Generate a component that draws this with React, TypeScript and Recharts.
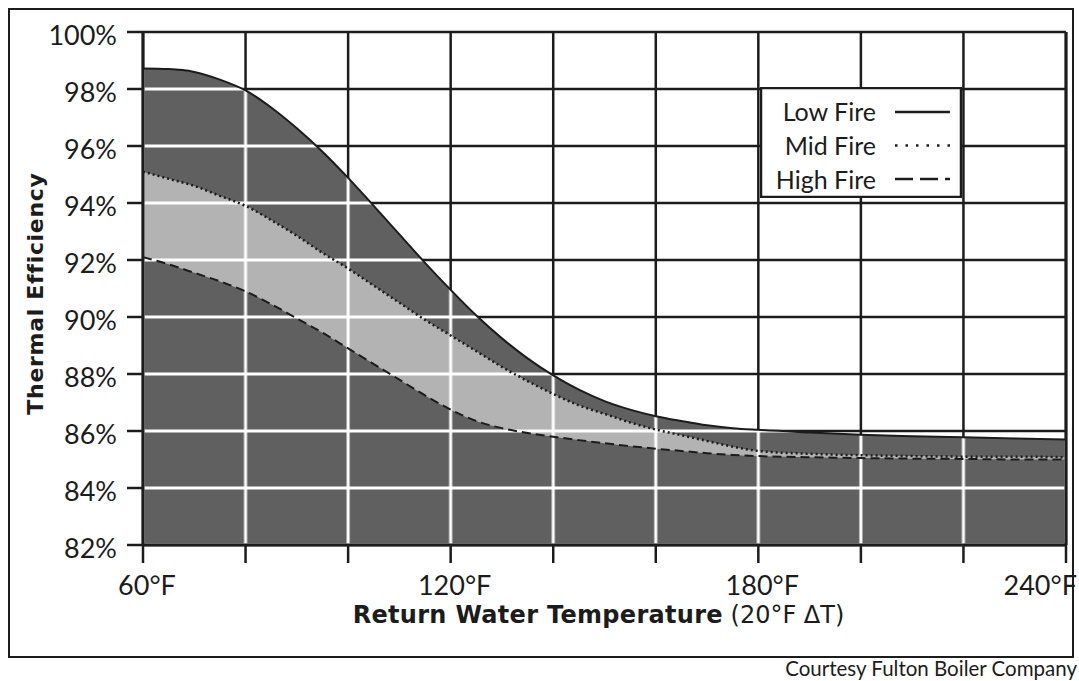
import React from 'react';
import { AreaChart, Area, XAxis, YAxis, CartesianGrid, Legend, ReferenceLine } from 'recharts';

// return water temperature (°F) and thermal efficiency (%)
const TEMPS = [60, 65, 70, 75, 80, 85, 90, 95, 100, 105, 110, 115, 120, 125, 130, 135, 140, 145, 150, 155, 160, 165, 170, 175, 180, 190, 200, 210, 220, 230, 240];
const LOW_FIRE = [98.72, 98.7, 98.6, 98.33, 97.95, 97.35, 96.62, 95.8, 94.88, 93.9, 92.9, 91.9, 90.95, 90.05, 89.25, 88.55, 87.95, 87.45, 87.05, 86.75, 86.52, 86.35, 86.2, 86.1, 86.04, 85.95, 85.87, 85.82, 85.78, 85.74, 85.7];
const MID_FIRE = [95.1, 94.85, 94.6, 94.25, 93.9, 93.4, 92.85, 92.25, 91.7, 91.1, 90.5, 89.9, 89.35, 88.8, 88.25, 87.75, 87.3, 86.9, 86.6, 86.3, 86.05, 85.85, 85.65, 85.45, 85.3, 85.2, 85.15, 85.12, 85.1, 85.1, 85.08];
const HIGH_FIRE = [92.1, 91.85, 91.55, 91.25, 90.9, 90.45, 89.95, 89.45, 88.9, 88.35, 87.8, 87.25, 86.75, 86.35, 86.1, 85.93, 85.8, 85.68, 85.57, 85.47, 85.38, 85.3, 85.22, 85.16, 85.12, 85.08, 85.05, 85.03, 85.02, 85.0, 85.0];

const SERIES_NAMES = ['Low Fire', 'Mid Fire', 'High Fire'];
const X_TICKS = [60, 80, 100, 120, 140, 160, 180, 200, 220, 240];
const X_LABELED = [60, 120, 180, 240];
const Y_TICKS = [82, 84, 86, 88, 90, 92, 94, 96, 98, 100];

const data = TEMPS.map((t, i) => ({
  temp: t,
  low: LOW_FIRE[i],
  mid: MID_FIRE[i],
  high: HIGH_FIRE[i],
}));

const FRAME_W = 1066;
const CHART_W = 1071;
const CHART_H = 650;
const MARGIN = { top: 24, right: 13, bottom: 23, left: 10 };
const Y_AXIS_W = 125;
const X_AXIS_H = 90;
const PLOT_LEFT = MARGIN.left + Y_AXIS_W;
const PLOT_TOP = MARGIN.top;
const PLOT_W = CHART_W - PLOT_LEFT - MARGIN.right;
const PLOT_H = CHART_H - MARGIN.top - MARGIN.bottom - X_AXIS_H;
const CELL_W = PLOT_W / (X_TICKS.length - 1);
const CELL_H = PLOT_H / (Y_TICKS.length - 1);

const DARK = '#606060';
const LIGHT = '#b3b3b3';
const INK = '#1c1c1c';
const TICK_FONT = 'Lato, "Open Sans", sans-serif';
const TITLE_FONT = '"DejaVu Sans", sans-serif';

// legend swatch styles per series
const SWATCH: Record<string, string | undefined> = {
  'Low Fire': undefined,
  'Mid Fire': '2.5 8',
  'High Fire': '18 7',
};

// fill with white grid lines so the grid shows white over the shaded bands
function GridFill({ id, color }: { id: string; color: string }) {
  const h = 1.5;
  return (
    <pattern id={id} patternUnits="userSpaceOnUse" x={PLOT_LEFT} y={PLOT_TOP} width={CELL_W} height={CELL_H}>
      <rect width={CELL_W} height={CELL_H} fill={color} />
      <rect width={h} height={CELL_H} fill="#fff" />
      <rect x={CELL_W - h} width={h} height={CELL_H} fill="#fff" />
      <rect width={CELL_W} height={h} fill="#fff" />
      <rect y={CELL_H - h} width={CELL_W} height={h} fill="#fff" />
    </pattern>
  );
}

const XTick = ({ x, y, payload }: any) => {
  if (!X_LABELED.includes(payload.value)) return <g />;
  const last = payload.value === X_TICKS[X_TICKS.length - 1];
  return (
    <text
      x={last ? x + 11 : x + 4}
      y={y}
      dy={32}
      textAnchor={last ? 'end' : 'middle'}
      fontFamily={TICK_FONT}
      fontSize={27}
      fill={INK}
    >
      {`${payload.value}°F`}
    </text>
  );
};

const YTick = ({ x, y, payload }: any) => (
  <text x={x} y={y} dy={13} textAnchor="end" fontFamily={TICK_FONT} fontSize={27} fill={INK}>
    {`${payload.value}%`}
  </text>
);

const XTitle = (props: any) => {
  const vb = props.viewBox ?? { x: PLOT_LEFT, y: PLOT_TOP + PLOT_H, width: PLOT_W, height: X_AXIS_H };
  return (
    <text x={vb.x + vb.width / 2 - 6} y={vb.y + 78} textAnchor="middle" fontFamily={TITLE_FONT} fontSize={24} fill={INK}>
      <tspan fontWeight="bold" letterSpacing={0.3}>Return Water Temperature</tspan>
      <tspan> (20°F ΔT)</tspan>
    </text>
  );
};

const YTitle = (props: any) => {
  const vb = props.viewBox ?? { x: MARGIN.left, y: PLOT_TOP, width: Y_AXIS_W, height: PLOT_H };
  const cx = vb.x + 25;
  const cy = vb.y + vb.height / 2 + 5;
  return (
    <text x={cx} y={cy} transform={`rotate(-90, ${cx}, ${cy})`} textAnchor="middle" fontFamily={TITLE_FONT} fontWeight="bold" fontSize={22} letterSpacing={0.7} fill={INK}>
      Thermal Efficiency
    </text>
  );
};

const renderLegend = ({ payload }: any) => {
  const items = SERIES_NAMES.filter((n) => (payload || []).some((p: any) => p.value === n));
  return (
    <svg width={202} height={111} style={{ display: 'block' }}>
      <rect x={1} y={1} width={200} height={109} fill="#fff" stroke={INK} strokeWidth={2.5} />
      {items.map((name, i) => (
        <g key={name}>
          <text x={116} y={34 + i * 34} textAnchor="end" fontFamily={TICK_FONT} fontSize={25} fill={INK}>
            {name}
          </text>
          <line x1={135} x2={190} y1={25 + i * 33.5} y2={25 + i * 33.5} stroke={INK} strokeWidth={2.5} strokeDasharray={SWATCH[name]} />
        </g>
      ))}
    </svg>
  );
};

export default function App() {
  return (
    <div style={{ padding: 8 }}>
      <style>{'body{margin:0;overflow:hidden}'}</style>
      <div style={{ position: 'relative', width: CHART_W, height: 665 }}>
        <div
          style={{
            position: 'absolute',
            left: 0,
            top: 0,
            width: FRAME_W,
            height: CHART_H,
            border: `2px solid ${INK}`,
            boxSizing: 'border-box',
          }}
        />
        <div style={{ position: 'absolute', left: 0, top: 0 }}>
          <AreaChart width={CHART_W} height={CHART_H} data={data} margin={MARGIN}>
            <defs>
              <GridFill id="darkGrid" color={DARK} />
              <GridFill id="lightGrid" color={LIGHT} />
            </defs>
            <CartesianGrid stroke={INK} strokeWidth={2.5} />
            <Area
              type="monotone"
              dataKey="low"
              name="Low Fire"
              stroke={INK}
              strokeWidth={2}
              fill="url(#darkGrid)"
              fillOpacity={1}
              dot={false}
              activeDot={false}
              isAnimationActive={false}
            />
            <Area
              type="monotone"
              dataKey="mid"
              name="Mid Fire"
              stroke={INK}
              strokeWidth={2.5}
              strokeDasharray="2 3"
              fill="url(#lightGrid)"
              fillOpacity={1}
              dot={false}
              activeDot={false}
              isAnimationActive={false}
            />
            <Area
              type="monotone"
              dataKey="high"
              name="High Fire"
              stroke={INK}
              strokeWidth={2}
              strokeDasharray="9 5"
              fill="url(#darkGrid)"
              fillOpacity={1}
              dot={false}
              activeDot={false}
              isAnimationActive={false}
            />
            <ReferenceLine x={240} stroke={INK} strokeWidth={3} />
            <XAxis
              dataKey="temp"
              type="number"
              domain={[60, 240]}
              ticks={X_TICKS}
              height={X_AXIS_H}
              interval={0}
              tick={<XTick />}
              tickSize={18}
              tickMargin={0}
              axisLine={{ stroke: INK, strokeWidth: 3 }}
              tickLine={{ stroke: INK, strokeWidth: 2.5 }}
              label={{ content: XTitle }}
            />
            <YAxis
              type="number"
              domain={[82, 100]}
              ticks={Y_TICKS}
              width={Y_AXIS_W}
              interval={0}
              tick={<YTick />}
              tickSize={16}
              tickMargin={10}
              axisLine={{ stroke: INK, strokeWidth: 3 }}
              tickLine={{ stroke: INK, strokeWidth: 2.5 }}
              label={{ content: YTitle }}
            />
            <Legend
              layout="horizontal"
              align="center"
              verticalAlign="middle"
              wrapperStyle={{ left: 752, top: 79, width: 202, height: 111 }}
              content={renderLegend}
            />
          </AreaChart>
        </div>
        <div
          style={{
            position: 'absolute',
            right: 2,
            top: 650,
            fontFamily: TICK_FONT,
            fontSize: 20.5,
            lineHeight: 1,
            color: INK,
            whiteSpace: 'nowrap',
          }}
        >
          Courtesy Fulton Boiler Company
        </div>
      </div>
    </div>
  );
}
